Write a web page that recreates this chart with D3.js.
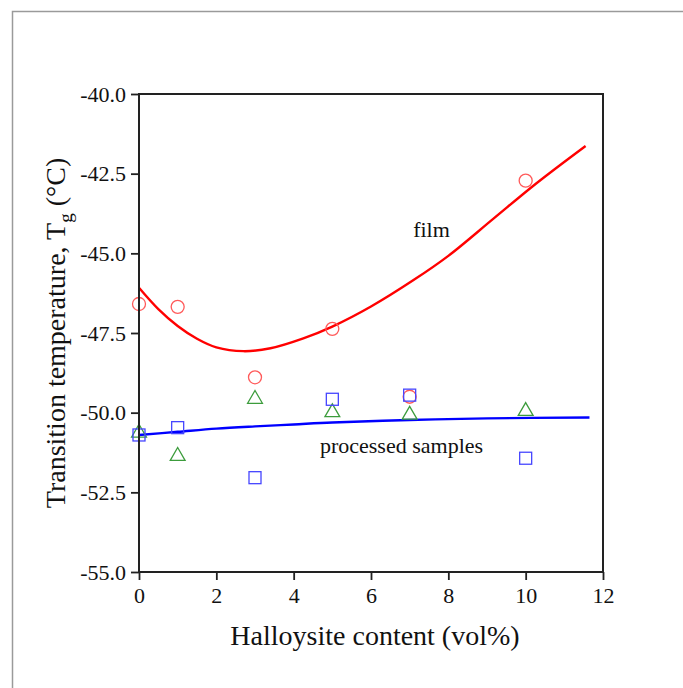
<!DOCTYPE html>
<html>
<head>
<meta charset="utf-8">
<script src="https://cdn.jsdelivr.net/npm/d3@7"></script>
<style>
  html, body { margin: 0; padding: 0; background: #fff; }
  svg { display: block; }
  text { font-family: "Liberation Serif", "Times New Roman", serif; fill: #111; }
</style>
</head>
<body>
<svg id="chart" width="683" height="688"></svg>
<script>
// Halloysite content (vol%) of each sample
const content = [0, 1, 3, 5, 7, 10];

// Measured transition temperatures (°C)
const filmTg = [-46.59, -46.68, -48.89, -47.37, -49.50, -42.72];
const processedSquareTg = [-50.70, -50.47, -52.04, -49.58, -49.45, -51.43];
const processedTriangleTg = [-50.60, -51.33, -49.54, -49.96, -50.04, -49.92];

// Trend curves as drawn (content, Tg)
const filmFitX = [0, 0.5, 1.0, 1.5, 2.0, 2.7, 3.4, 4.25, 5.0, 6.0, 7.1, 8.0, 9.16, 10.28, 11.55];
const filmFitY = [-46.08, -46.75, -47.28, -47.68, -47.95, -48.07, -47.98, -47.67, -47.30, -46.67, -45.84, -45.08, -43.92, -42.80, -41.63];
const processedFitX = [0, 1, 2, 3, 4, 5, 7, 9, 11.65];
const processedFitY = [-50.70, -50.60, -50.50, -50.43, -50.37, -50.31, -50.23, -50.18, -50.15];

// Axis ticks
const xTicks = [0, 2, 4, 6, 8, 10, 12];
const yTicks = [-40, -42.5, -45, -47.5, -50, -52.5, -55];

const svg = d3.select("#chart");

// outer frame
svg.append("rect")
  .attr("x", 12.5).attr("y", 11.5)
  .attr("width", 700).attr("height", 700)
  .attr("fill", "none").attr("stroke", "#9a9a9a").attr("stroke-width", 1.5);

const x = d3.scaleLinear().domain([0, 12]).range([139, 603]);
const y = d3.scaleLinear().domain([-55, -40]).range([572, 94]);

// trend lines
const line = d3.line().x(d => x(d[0])).y(d => y(d[1])).curve(d3.curveCatmullRom.alpha(0.5));

svg.append("path")
  .datum(filmFitX.map((v, i) => [v, filmFitY[i]]))
  .attr("d", line).attr("fill", "none")
  .attr("stroke", "#ff0000").attr("stroke-width", 2.4);

svg.append("path")
  .datum(processedFitX.map((v, i) => [v, processedFitY[i]]))
  .attr("d", line).attr("fill", "none")
  .attr("stroke", "#0000ff").attr("stroke-width", 2.4);

// markers
const tri = d3.symbol().type(d3.symbolTriangle).size(95);
svg.append("g").selectAll("path")
  .data(content.map((c, i) => [c, processedTriangleTg[i]]))
  .join("path")
  .attr("d", tri)
  .attr("transform", d => `translate(${x(d[0])},${y(d[1]) + 1})`)
  .attr("fill", "none").attr("stroke", "#3c9c3c").attr("stroke-width", 1.3);

svg.append("g").selectAll("circle")
  .data(content.map((c, i) => [c, filmTg[i]]))
  .join("circle")
  .attr("cx", d => x(d[0])).attr("cy", d => y(d[1]))
  .attr("r", 6.5)
  .attr("fill", "none").attr("stroke", "#ff5a5a").attr("stroke-width", 1.3);

svg.append("g").selectAll("rect")
  .data(content.map((c, i) => [c, processedSquareTg[i]]))
  .join("rect")
  .attr("x", d => x(d[0]) - 6).attr("y", d => y(d[1]) - 6)
  .attr("width", 12).attr("height", 12)
  .attr("fill", "none").attr("stroke", "#4646ff").attr("stroke-width", 1.3);

// plot frame
svg.append("rect")
  .attr("x", x(0)).attr("y", y(-40))
  .attr("width", x(12) - x(0)).attr("height", y(-55) - y(-40))
  .attr("fill", "none").attr("stroke", "#222").attr("stroke-width", 2);

// axes
const xAxis = d3.axisBottom(x).tickValues(xTicks).tickSize(8).tickPadding(7).tickFormat(d3.format("d"));
const yAxis = d3.axisLeft(y).tickValues(yTicks).tickSize(8).tickPadding(5).tickFormat(d => d.toFixed(1));

const gx = svg.append("g").attr("transform", `translate(0,${y(-55)})`).call(xAxis);
const gy = svg.append("g").attr("transform", `translate(${x(0)},0)`).call(yAxis);
[gx, gy].forEach(g => {
  g.select(".domain").remove();
  g.selectAll(".tick line").attr("stroke", "#222").attr("stroke-width", 1.8);
  g.selectAll(".tick text").attr("font-size", 22).attr("font-family", "Liberation Serif").attr("fill", "#111");
});

// axis titles
svg.append("text")
  .attr("x", (x(0) + x(12)) / 2 + 4).attr("y", 645)
  .attr("text-anchor", "middle").attr("font-size", 28)
  .text("Halloysite content (vol%)");

const yt = svg.append("text")
  .attr("transform", `translate(65,${(y(-40) + y(-55)) / 2}) rotate(-90)`)
  .attr("text-anchor", "middle").attr("font-size", 28);
yt.append("tspan").text("Transition temperature, T");
yt.append("tspan").attr("font-size", 19).attr("dy", 7).text("g");
yt.append("tspan").attr("dy", -7).text(" (°C)");

// curve labels
svg.append("text")
  .attr("x", x(7.09)).attr("y", y(-44.49))
  .attr("font-size", 22).text("film");
svg.append("text")
  .attr("x", x(4.68)).attr("y", y(-51.27))
  .attr("font-size", 22).text("processed samples");
</script>
</body>
</html>
